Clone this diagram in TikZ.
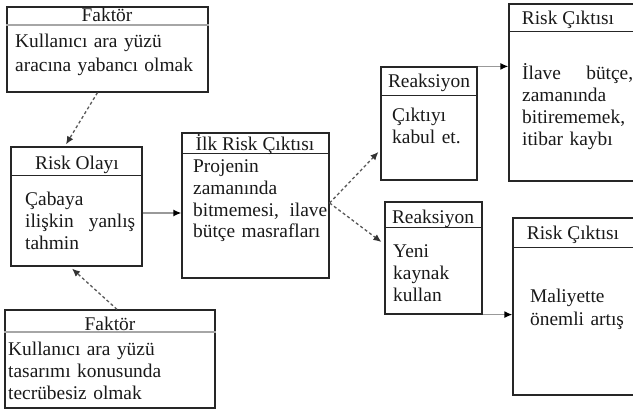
\documentclass[tikz,border=0pt]{standalone}
\usepackage{fontspec}
\setmainfont{Liberation Serif}
\usetikzlibrary{arrows.meta}
\begin{document}
\begin{tikzpicture}[x=1pt,y=-1pt,
  box/.style={draw=black!85, line width=1.2pt, inner sep=0pt},
  hline/.style={draw=black!85, line width=1.2pt},
  ghline/.style={draw=black!35, line width=2pt},
  txt/.style={anchor=base west, inner sep=0pt, align=left, text width=#1, font=\fontsize{19.4}{22}\selectfont, text=black!90},
  txtw/.style={anchor=base west, inner sep=0pt, align=left, text width=#1, font=\fontsize{19.4}{24}\selectfont, text=black!90},
  hdr/.style={anchor=base, inner sep=0pt, font=\fontsize{19.4}{22}\selectfont, text=black!90},
  dasharrow/.style={draw=black!65, line width=1.3pt, dash pattern=on 3pt off 2.5pt, -{Latex[length=8pt,width=7pt,color=black!80]}},
  solidarrow/.style={draw=black!40, line width=1.5pt, -{Latex[length=8pt,width=7pt,color=black]}}
]
\clip (0,0) rectangle (633,412);
\fill[white] (0,0) rectangle (633,412);

% boxes
\node[box, minimum width=201pt, minimum height=85pt] (F1) at (107.5,49.5) {};
\node[box, minimum width=131pt, minimum height=119pt] (RO) at (76.5,206.5) {};
\node[box, minimum width=210pt, minimum height=98pt] (F2) at (110,359) {};
\node[box, minimum width=147pt, minimum height=145pt] (IRC) at (255.5,205.5) {};
\node[box, minimum width=96pt, minimum height=113pt] (R1) at (429,123.5) {};
\node[box, minimum width=97pt, minimum height=112pt] (R2) at (433.5,258) {};
\node[box, minimum width=136pt, minimum height=177pt] (RC1) at (577,92.5) {};
\node[box, minimum width=132pt, minimum height=177pt] (RC2) at (579,306.5) {};

% header lines
\draw[ghline] ([yshift=-19pt]F1.north west) -- ([yshift=-19pt]F1.north east);
\draw[hline] ([yshift=-29pt]RO.north west) -- ([yshift=-29pt]RO.north east);
\draw[ghline] ([yshift=-23pt]F2.north west) -- ([yshift=-23pt]F2.north east);
\draw[hline] ([yshift=-21pt]IRC.north west) -- ([yshift=-21pt]IRC.north east);
\draw[hline] ([yshift=-29pt]R1.north west) -- ([yshift=-29pt]R1.north east);
\draw[hline] ([yshift=-26pt]R2.north west) -- ([yshift=-26pt]R2.north east);
\draw[hline] ([yshift=-28pt]RC1.north west) -- ([yshift=-28pt]RC1.north east);
\draw[hline] ([yshift=-30pt]RC2.north west) -- ([yshift=-30pt]RC2.north east);

% header texts
\node[hdr] (F1h) at (107,22) {Faktör};
\node[hdr] (ROh) at (77,170) {Risk Olayı};
\node[hdr] (F2h) at (110,330) {Faktör};
\node[hdr] (IRCh) at (255,150) {İlk Risk Çıktısı};
\node[hdr] (R1h) at (429,88) {Reaksiyon};
\node[hdr] (R2h) at (433,223) {Reaksiyon};
\node[hdr] (RC1h) at (568,25) {Risk Çıktısı};
\node[hdr] (RC2h) at (573,240) {Risk Çıktısı};

% body texts
\node[txtw=195pt] (F1t) at (15,48) {Kullanıcı ara yüzü\\aracına yabancı olmak};
\node[txt=115pt] (ROt) at (25,205) {Çabaya\\\makebox[110pt][l]{ilişkin\hfill yanlış}\\tahmin};
\node[txt=205pt] (F2t) at (8,355) {Kullanıcı ara yüzü\\tasarımı konusunda\\tecrübesiz olmak};
\node[txt=140pt] (IRCt) at (193,172) {Projenin\\zamanında\\\makebox[134pt][l]{bitmemesi,\hfill ilave}\\bütçe masrafları};
\node[txt=85pt] (R1t) at (392,122) {Çıktıyı\\kabul et.};
\node[txt=85pt] (R2t) at (393,257) {Yeni\\kaynak\\kullan};
\node[txt=115pt] (RC1t) at (522,80) {\makebox[111pt][l]{İlave\hfill bütçe,}\\zamanında\\bitirememek,\\itibar kaybı};
\node[txt=115pt, font=\fontsize{19.4}{23}\selectfont] (RC2t) at (530,302) {Maliyette\\önemli artış};

% connectors
\draw[dasharrow] ([xshift=-10pt]F1.south) -- ([xshift=-10.5pt,yshift=2pt]RO.north);
\draw[dasharrow] ([xshift=7pt]F2.north) -- ([xshift=-4.5pt,yshift=-2pt]RO.south);
\draw[solidarrow] ([yshift=-6.5pt]RO.east) -- ([yshift=-6.5pt]RO.east -| IRC.west);
\draw[dasharrow] ([yshift=2.5pt]IRC.east) -- ([xshift=-2pt,yshift=-28.5pt]R1.west);
\draw[dasharrow] ([yshift=2.5pt]IRC.east) -- ([xshift=-3pt,yshift=16pt]R2.west);
\draw[solidarrow] (R1.north east) -- (R1.north east -| RC1.west);
\draw[solidarrow] (R2.south east) -- (R2.south east -| RC2.west);
\end{tikzpicture}
\end{document}
